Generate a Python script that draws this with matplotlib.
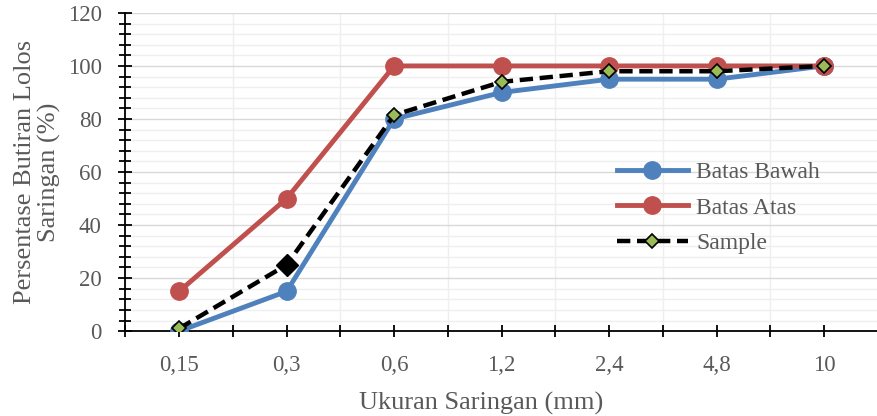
import numpy as np
import matplotlib
matplotlib.use("Agg")
import matplotlib.pyplot as plt
from matplotlib.ticker import MultipleLocator

sizes = ["0,15", "0,3", "0,6", "1,2", "2,4", "4,8", "10"]
batas_bawah = [0, 15, 80, 90, 95, 95, 100]
batas_atas = [15, 50, 100, 100, 100, 100, 100]
sample = [1, 25, 81.5, 94, 98, 98, 100]

plt.rcParams["font.family"] = ["Liberation Serif", "DejaVu Serif"]
grey = "#595959"

fig = plt.figure(figsize=(8.77, 4.16), dpi=100)
ax = fig.add_axes([0.143, 0.204, 0.858, 0.765])

x = np.arange(len(sizes))

ax.plot(x, batas_bawah, color="#4F81BD", lw=3.5, marker="o", ms=12.5,
        label="Batas Bawah", zorder=3)
ax.plot(x, batas_atas, color="#C0504D", lw=3.5, marker="o", ms=12.5,
        label="Batas Atas", zorder=3)
ax.plot(x, sample, color="black", lw=3.2, ls=(0, (3, 1.5)), marker="D", ms=7.5,
        mfc="#9BBB59", mec="black", mew=1.2, label="Sample", zorder=4)
# the 0,3 point is drawn with a black marker in the original
ax.plot(x[1], sample[1], marker="D", ms=11, color="black", ls="none", zorder=5)

ax.set_xlim(-0.5, 6.5)
ax.set_ylim(0, 120)
ax.set_xticks(x)
ax.set_xticklabels(sizes)
ax.set_xticks(np.arange(-0.5, 6.6, 0.5), minor=True)
ax.yaxis.set_major_locator(MultipleLocator(20))
ax.yaxis.set_minor_locator(MultipleLocator(4))

ax.grid(which="major", axis="y", color="#d9d9d9", lw=1)
ax.grid(which="minor", axis="y", color="#efefef", lw=1)
ax.grid(which="minor", axis="x", color="#efefef", lw=1)
ax.set_axisbelow(True)

for s in ["top", "right"]:
    ax.spines[s].set_visible(False)
ax.spines["left"].set_linewidth(1.3)
ax.spines["bottom"].set_linewidth(1.3)

ax.tick_params(axis="both", which="both", direction="inout", colors="black",
               labelcolor=grey, labelsize=16.5, width=1.3)
ax.tick_params(axis="x", which="major", length=9, pad=13)
ax.tick_params(axis="x", which="minor", length=9)
ax.tick_params(axis="y", which="major", length=10, pad=12)
ax.tick_params(axis="y", which="minor", length=8)

ax.set_xlabel("Ukuran Saringan (mm)", fontsize=19, color=grey)
ax.xaxis.set_label_coords(0.473, -0.19)
ax.set_ylabel("Persentase Butiran Lolos\nSaringan (%)", fontsize=19,
              color=grey, linespacing=1.1)
ax.yaxis.set_label_coords(-0.086, 0.5)

leg = ax.legend(loc="upper left", bbox_to_anchor=(0.625, 0.60), frameon=False,
                fontsize=17, handlelength=3.0, labelspacing=0.6,
                handletextpad=0.35)
for t in leg.get_texts():
    t.set_color(grey)

fig.savefig("out.png", dpi=100)
